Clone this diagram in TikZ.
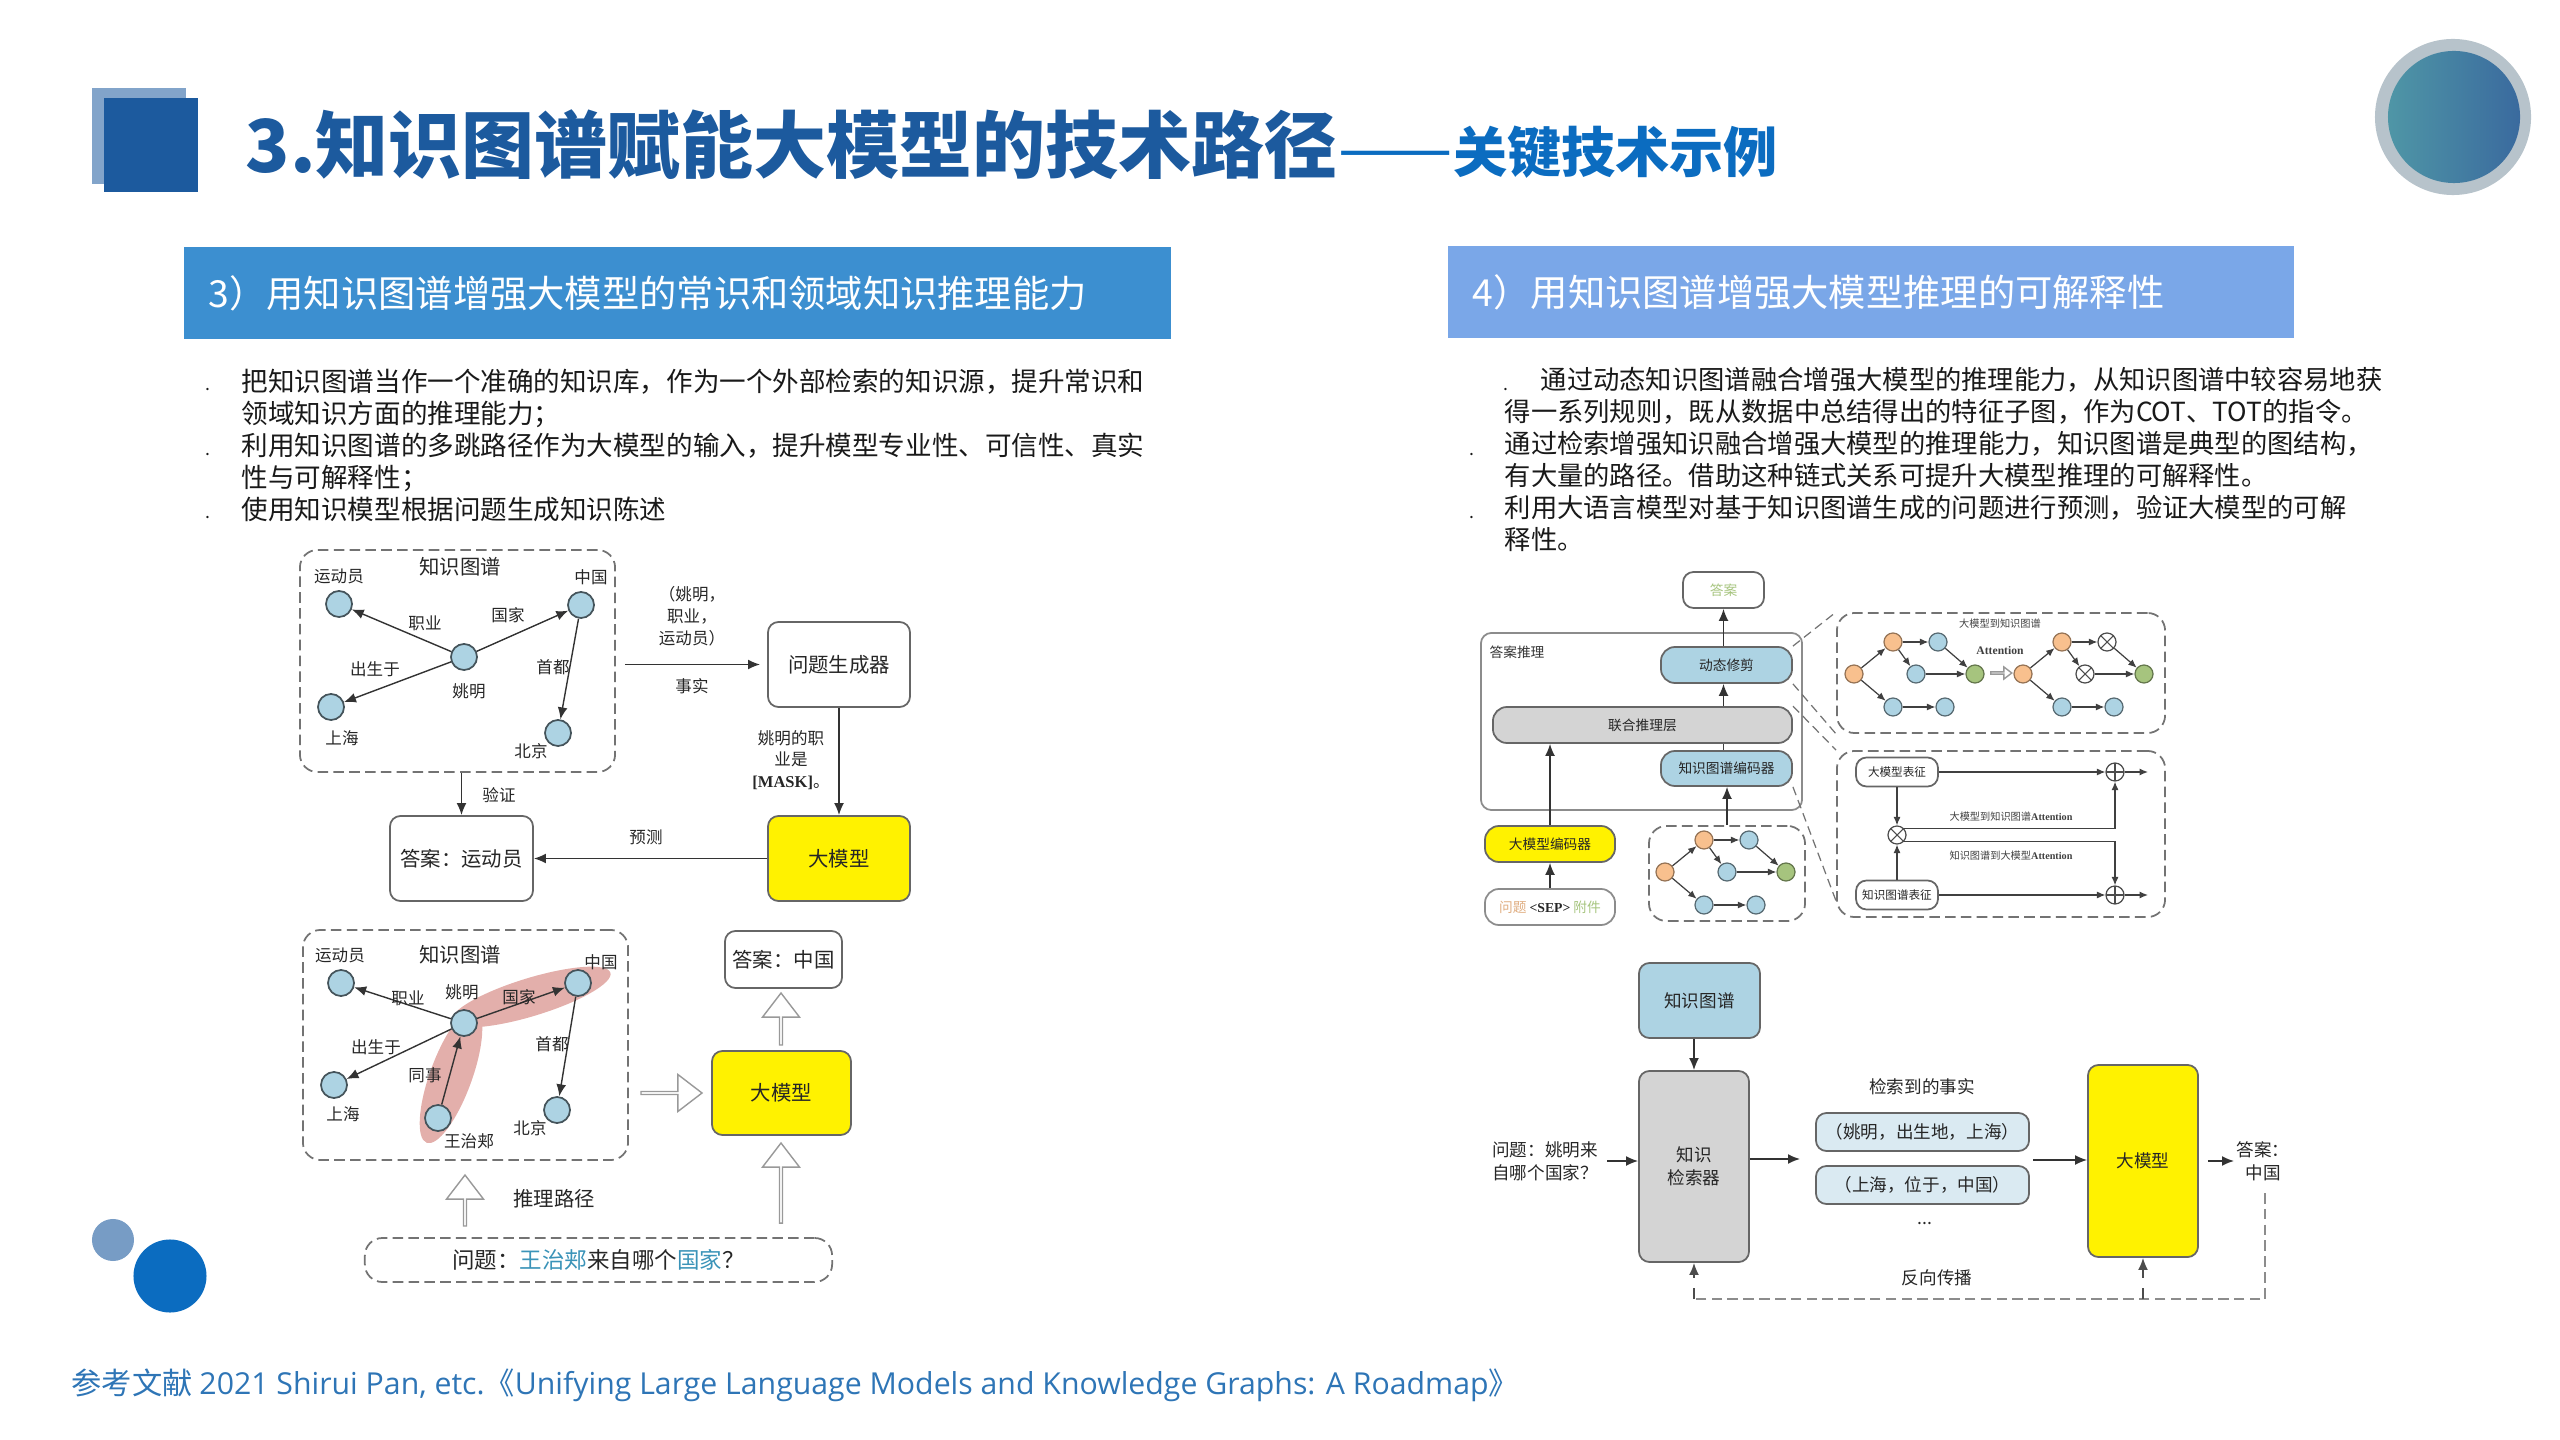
\documentclass[tikz,border=0pt]{standalone}
\usepackage{fontspec}
\setmainfont{Noto Sans CJK SC}
\newfontfamily\latinfont{Open Sans}
\newfontfamily\serifbold[BoldFont={Liberation Serif Bold}]{Liberation Serif}
\usepackage{xcolor}
\usepackage{tikz}
\usetikzlibrary{shapes.geometric,shapes.arrows,arrows.meta,positioning}

\definecolor{titleblue}{HTML}{1C5A9E}
\definecolor{subblue}{HTML}{0B6CC0}
\definecolor{bannerA}{HTML}{3C8FD0}
\definecolor{bannerB}{HTML}{7AA7E8}
\definecolor{nodeblue}{HTML}{ADD3E3}
\definecolor{factblue}{HTML}{DAEAF2}
\definecolor{nodeorange}{HTML}{F8C08E}
\definecolor{nodegreen}{HTML}{A6C47E}
\definecolor{pathpink}{HTML}{E3AFAB}
\definecolor{qblue}{HTML}{3A93B8}
\definecolor{footblue}{HTML}{2E75B6}
\definecolor{ringgray}{HTML}{B7C3CB}
\definecolor{ringleft}{HTML}{4F96A6}
\definecolor{ringright}{HTML}{3A6A9E}

\newcommand{\kggraph}[5]{
  \begin{scope}[shift={(#2,#3)}]
    \node[onode] (#1a) at (0,0) {};
    \node[onode] (#1b) at (39,-32) {};
    \node[#4] (#1c) at (84,-32) {};
    \node[#5] (#1d) at (62,0) {};
    \node[gnode] (#1e) at (121,0) {};
    \node[bnode] (#1f) at (39,33) {};
    \node[bnode] (#1g) at (91,33) {};
  \end{scope}
  \foreach \s/\t in {a/b,b/c,b/d,c/e,d/e,a/f,f/g}
    \draw[arrs] (#1\s) -- (#1\t);
}

\begin{document}
\begin{tikzpicture}[
  x=0.01cm, y=-0.01cm,
  box/.style={draw=black!60, rounded corners=3pt, line width=.5pt, inner sep=0pt, align=center, text=black!85},
  dbox/.style={draw=black!55, dash pattern=on 3pt off 1.5pt, rounded corners=5pt, line width=.5pt, inner sep=0pt},
  arr/.style={-{Latex[length=3.4pt,width=2.8pt]}, line width=.4pt, draw=black!80},
  arrs/.style={-{Latex[length=2.4pt,width=2pt]}, line width=.35pt, draw=black!75},
  link/.style={draw=black!55, dash pattern=on 2.5pt off 1.5pt, line width=.35pt},
  fb/.style={draw=black!45, dash pattern=on 3pt off 1.5pt, line width=.5pt},
  hollow/.style={single arrow, draw=black!40, fill=white, inner sep=0pt, line width=.4pt, single arrow tip angle=75},
  big/.style={inner sep=0pt, align=center, text=black!85, font=\fontsize{5.8}{7.4}\selectfont},
  small/.style={inner sep=0pt, align=center, text=black!85, font=\fontsize{4.7}{6.2}\selectfont},
  mid/.style={inner sep=0pt, align=center, text=black!85, font=\fontsize{5}{6.6}\selectfont},
  tiny3/.style={inner sep=0pt, align=center, text=black!80, font=\fontsize{3.9}{5}\selectfont},
  tiny2/.style={inner sep=0pt, align=center, text=black!75, font=\fontsize{2.9}{4}\selectfont},
  cnode/.style={circle, draw=black!60!nodeblue, fill=nodeblue, minimum size=.26cm, inner sep=0pt, line width=.5pt},
  bnode/.style={circle, draw=black!50!nodeblue, fill=nodeblue, minimum size=.18cm, inner sep=0pt, line width=.35pt},
  onode/.style={bnode, draw=black!40!nodeorange, fill=nodeorange},
  gnode/.style={bnode, draw=black!40!nodegreen, fill=nodegreen},
  xnode/.style={bnode, draw=black!70, fill=white, path picture={
    \draw[black!70, line width=.3pt] (path picture bounding box.north west) -- (path picture bounding box.south east)
      (path picture bounding box.north east) -- (path picture bounding box.south west);}},
  pnode/.style={bnode, draw=black!70, fill=white, path picture={
    \draw[black!70, line width=.3pt] (path picture bounding box.north) -- (path picture bounding box.south)
      (path picture bounding box.west) -- (path picture bounding box.east);}},
  banner/.style={minimum height=.92cm, inner xsep=.25cm, inner ysep=0pt, align=left, text=white, font=\fontsize{10.6}{12}\selectfont},
  body/.style={inner sep=0pt, align=left, text=black!90, font=\fontsize{7.55}{9.1}\selectfont},
  bullet/.style={inner sep=0pt, text=black!90, font=\fontsize{5}{6}\selectfont}
]
  \useasboundingbox (0,0) rectangle (2560,1440);

  % header
  \node[rectangle, fill=titleblue!55!white, minimum width=.94cm, minimum height=.95cm, inner sep=0pt] (sqback) at (139,136) {};
  \node[rectangle, fill=titleblue, minimum width=.94cm, minimum height=.93cm, inner sep=0pt] (sqfront) at (151,145) {};
  \node[anchor=base west, inner sep=0pt, text=titleblue, font=\fontsize{20.75}{24}\selectfont\bfseries] (title) at (245,173) {3.知识图谱赋能大模型的技术路径};
  \node[anchor=base west, inner sep=0pt, text=subblue, font=\fontsize{15.4}{18}\selectfont\bfseries] (subtitle) at (title.base east) {{\fontsize{19.4}{20}\selectfont\mdseries ——}关键技术示例};
  \node[circle, fill=ringgray, minimum size=1.56cm, inner sep=0pt] (ringout) at (2453,117) {};
  \node[circle, left color=ringleft, right color=ringright, minimum size=1.32cm, inner sep=0pt] (ringin) at (2454,117) {};

  % banners
  \node[banner, fill=bannerA, minimum width=9.87cm, text width=9.37cm] (bana) at (677.5,293) {3）用知识图谱增强大模型的常识和领域知识推理能力};
  \node[banner, fill=bannerB, minimum width=8.46cm, text width=7.96cm] (banb) at (1871,292) {4）用知识图谱增强大模型推理的可解释性};

  % left text
  \node[body, anchor=north west] (texta) at (241,368) {把知识图谱当作一个准确的知识库，作为一个外部检索的知识源，提升常识和\\
    领域知识方面的推理能力；\\
    利用知识图谱的多跳路径作为大模型的输入，提升模型专业性、可信性、真实\\
    性与可解释性；\\
    使用知识模型根据问题生成知识陈述};
  \node[bullet] (dota) at (208,390) {.};
  \node[bullet] (dotb) at (208,455) {.};
  \node[bullet] (dotc) at (208,518) {.};

  % right text
  \node[body, anchor=north west, font=\fontsize{7.48}{9.1}\selectfont] (textb) at (1504,367) {\hspace*{.36cm}通过动态知识图谱融合增强大模型的推理能力，从知识图谱中较容易地获\\
    得一系列规则，既从数据中总结得出的特征子图，作为COT、TOT的指令。\\
    通过检索增强知识融合增强大模型的推理能力，知识图谱是典型的图结构，\\
    有大量的路径。借助这种链式关系可提升大模型推理的可解释性。\\
    利用大语言模型对基于知识图谱生成的问题进行预测，验证大模型的可解\\
    释性。};
  \node[bullet] (dotd) at (1506,390) {.};
  \node[bullet] (dote) at (1472,455) {.};
  \node[bullet] (dotf) at (1472,518) {.};

  % upper left graph
  \node[dbox, minimum width=3.15cm, minimum height=2.22cm] (kga) at (457.5,661) {};
  \node[cnode] (ydA) at (339,604) {};
  \node[cnode] (zgA) at (581,605) {};
  \node[cnode] (ymA) at (464,657) {};
  \node[cnode] (shA) at (331,707) {};
  \node[cnode] (bjA) at (558,733) {};
  \draw[arr] (ymA) -- (ydA);
  \draw[arr] (ymA) -- (zgA);
  \draw[arr] (ymA) -- (shA);
  \draw[arr] (zgA) -- (bjA);
  \node[big] (kglabA) at (460,567) {知识图谱};
  \node[small] at (339,576) {运动员};
  \node[small] at (591,577) {中国};
  \node[small] at (425,623) {职业};
  \node[small] at (508,615) {国家};
  \node[small] at (375,669) {出生于};
  \node[small] at (469,691) {姚明};
  \node[small] at (553,667) {首都};
  \node[small] at (342,738) {上海};
  \node[small] at (531,751) {北京};
  \node[box, minimum width=1.42cm, minimum height=.85cm, font=\fontsize{5.8}{7}\selectfont] (gena) at (839,664.5) {问题生成器};
  \node[box, fill=yellow, minimum width=1.42cm, minimum height=.85cm, font=\fontsize{5.8}{7}\selectfont] (llma) at (839,858.5) {大模型};
  \node[box, minimum width=1.43cm, minimum height=.85cm, font=\fontsize{5.8}{7}\selectfont] (ansa) at (461.5,858.5) {答案：运动员};
  \draw[arr, shorten <=.09cm, shorten >=.07cm] (kga.east |- gena.west) -- (gena.west);
  \draw[arr] (gena) -- (llma);
  \draw[arr] (llma) -- (ansa);
  \draw[arr] (kga.south -| ansa.north) -- (ansa.north);
  \node[small] at (692,616) {（姚明，\\职业，\\运动员）};
  \node[small] at (692,686) {事实};
  \node[small] at (791,760) {姚明的职\\业是\\{\serifbold\bfseries [MASK]}。};
  \node[small] at (499,795) {验证};
  \node[small] at (646,837) {预测};

  % lower left graph
  \node[dbox, minimum width=3.25cm, minimum height=2.3cm] (kgb) at (465.5,1045) {};
  \node[ellipse, fill=pathpink, minimum width=1.66cm, minimum height=.38cm, inner sep=0pt, rotate=17] (patha) at (531,997) {};
  \node[ellipse, fill=pathpink, minimum width=1.42cm, minimum height=.42cm, inner sep=0pt, rotate=70] (pathb) at (451,1076) {};
  \node[cnode] (ydB) at (341,983) {};
  \node[cnode] (zgB) at (578,983) {};
  \node[cnode] (ymB) at (464,1023) {};
  \node[cnode] (shB) at (334,1085) {};
  \node[cnode] (wgB) at (438,1118) {};
  \node[cnode] (bjB) at (557,1110) {};
  \draw[arr] (ymB) -- (ydB);
  \draw[arr] (ymB) -- (zgB);
  \draw[arr] (ymB) -- (shB);
  \draw[arr] (zgB) -- (bjB);
  \draw[arr] (wgB) -- (ymB);
  \node[big] (kglabB) at (460,955) {知识图谱};
  \node[small] at (340,955) {运动员};
  \node[small] at (601,962) {中国};
  \node[small] at (408,998) {职业};
  \node[small] at (462,992) {姚明};
  \node[small] at (519,997) {国家};
  \node[small] at (376,1047) {出生于};
  \node[small] at (552,1044) {首都};
  \node[small] at (425,1075) {同事};
  \node[small] at (343,1114) {上海};
  \node[small] at (530,1128) {北京};
  \node[small] at (469,1141) {王治郏};
  \node[box, minimum width=1.17cm, minimum height=.57cm, font=\fontsize{5.8}{7}\selectfont] (ansb) at (783.5,959.5) {答案：中国};
  \node[box, fill=yellow, minimum width=1.39cm, minimum height=.84cm, font=\fontsize{5.8}{7}\selectfont] (llmb) at (781.5,1093) {大模型};
  \node[hollow, minimum height=.52cm, minimum width=.37cm, single arrow head extend=.08cm, rotate=90] (uparr) at (781,1020) {};
  \node[hollow, minimum height=.61cm, minimum width=.37cm, single arrow head extend=.08cm] (rtarr) at (670.5,1093) {};
  \node[hollow, minimum height=.80cm, minimum width=.37cm, single arrow head extend=.08cm, rotate=90] (lowarr) at (781,1184) {};
  \node[hollow, minimum height=.51cm, minimum width=.37cm, single arrow head extend=.08cm, rotate=90] (pathUp) at (465,1201.5) {};
  \node[big] (pathlab) at (554,1199) {推理路径};
  \node[dbox, minimum width=4.67cm, minimum height=.44cm, text=black!85, font=\fontsize{6.4}{8}\selectfont] (quesb) at (598.5,1260) {问题：{\color{qblue}王治郏}来自哪个{\color{qblue}国家}？};

  % upper right framework
  \node[box, draw=black!45, minimum width=3.21cm, minimum height=1.77cm] (infer) at (1641.5,721.5) {};
  \node[tiny3] at (1517,652) {答案推理};
  \node[box, minimum width=.81cm, minimum height=.36cm, text=nodegreen, font=\fontsize{3.9}{5}\selectfont] (ansc) at (1723.5,590) {答案};
  \node[box, fill=nodeblue, rounded corners=4pt, minimum width=1.31cm, minimum height=.36cm, font=\fontsize{3.9}{5}\selectfont] (prune) at (1726.5,665) {动态修剪};
  \node[box, fill=black!17, rounded corners=4pt, minimum width=2.99cm, minimum height=.36cm, font=\fontsize{3.9}{5}\selectfont] (joint) at (1642.5,725) {联合推理层};
  \node[box, fill=nodeblue, rounded corners=4pt, minimum width=1.31cm, minimum height=.35cm, font=\fontsize{3.9}{5}\selectfont] (kgenc) at (1726.5,768.5) {知识图谱编码器};
  \node[box, fill=yellow, rounded corners=4pt, minimum width=1.30cm, minimum height=.36cm, font=\fontsize{3.9}{5}\selectfont] (lmenc) at (1550,844) {大模型编码器};
  \node[box, draw=black!45, rounded corners=4pt, minimum width=1.30cm, minimum height=.36cm, font=\fontsize{3.9}{5}\selectfont] (qsep) at (1550,907) {{\color{nodeorange!90!black}问题} \textbf{\serifbold <SEP>} {\color{nodegreen}附件}};
  \node[dbox, minimum width=1.56cm, minimum height=.95cm] (gbox) at (1727,873.5) {};
  \node[dbox, minimum width=3.28cm, minimum height=1.20cm] (attbox) at (2001,673) {};
  \node[dbox, minimum width=3.28cm, minimum height=1.66cm] (repbox) at (2001,834) {};
  \draw[arr] (prune.north -| ansc.south) -- (ansc.south);
  \draw[arr] (joint.north -| ansc.south) -- (prune.south -| ansc.south);
  \draw[draw=black!75, line width=.4pt] (kgenc.north -| ansc.south) -- (joint.south -| ansc.south);
  \draw[arr] (gbox.north) -- (kgenc.south -| gbox.north);
  \draw[arr] (lmenc.north) -- (joint.south -| lmenc.north);
  \draw[arr] (qsep) -- (lmenc);
  \draw[link] (prune.north east) -- (attbox.north west);
  \draw[link] (prune.south east) -- (attbox.south west);
  \draw[link] (joint.north east) -- (repbox.north west);
  \draw[link] (kgenc.south east) -- ([yshift=.17cm]repbox.south west);

  % three small graphs
  \kggraph{gl}{1665}{872}{bnode}{bnode}
  \kggraph{gp}{1854}{674}{bnode}{bnode}
  \kggraph{gq}{2023}{674}{xnode}{xnode}
  \node[hollow, minimum height=.21cm, minimum width=.12cm, single arrow head extend=.03cm] (attarr) at (2000.5,673) {};
  \node[tiny2] at (2000,624) {大模型到知识图谱};
  \node[tiny2, font=\fontsize{3.3}{4}\selectfont\serifbold\bfseries] at (2000,651) {Attention};

  % attention lanes
  \node[box, minimum width=.82cm, minimum height=.29cm, font=\fontsize{3.3}{4}\selectfont] (lmrep) at (1897,772) {大模型表征};
  \node[box, minimum width=.82cm, minimum height=.29cm, font=\fontsize{3.3}{4}\selectfont] (kgrep) at (1897,895) {知识图谱表征};
  \node[xnode] (xop) at (1897,835) {};
  \node[pnode] (ptop) at (2115,772) {};
  \node[pnode] (pbot) at (2115,895) {};
  \coordinate (outa) at (2148,772);
  \coordinate (outb) at (2148,895);
  \draw[arrs] (lmrep) -- (ptop);
  \draw[arrs] (kgrep) -- (pbot);
  \draw[arrs] (ptop) -- (outa);
  \draw[arrs] (pbot) -- (outb);
  \draw[arrs] (lmrep) -- (xop);
  \draw[arrs] (kgrep) -- (xop);
  \draw[arrs] (xop.north east) -| (ptop.south);
  \draw[arrs] (xop.south east) -| (pbot.north);
  \node[tiny2] at (2011,817) {大模型到知识图谱{\serifbold\bfseries Attention}};
  \node[tiny2] at (2011,856) {知识图谱到大模型{\serifbold\bfseries Attention}};

  % retrieval flow
  \node[box, fill=nodeblue, minimum width=1.21cm, minimum height=.75cm, font=\fontsize{5}{6.6}\selectfont] (kgd) at (1699.5,1000.5) {知识图谱};
  \node[box, fill=black!17, minimum width=1.10cm, minimum height=1.91cm, font=\fontsize{5}{6.6}\selectfont] (retr) at (1694,1166.5) {知识\\检索器};
  \node[box, fill=factblue, minimum width=2.13cm, minimum height=.38cm, font=\fontsize{5}{6.6}\selectfont] (facta) at (1922.5,1132) {（姚明，出生地，上海）};
  \node[box, fill=factblue, minimum width=2.13cm, minimum height=.38cm, font=\fontsize{5}{6.6}\selectfont] (factb) at (1922.5,1185) {（上海，位于，中国）};
  \node[box, fill=yellow, minimum width=1.10cm, minimum height=1.92cm, font=\fontsize{5}{6.6}\selectfont] (llmd) at (2143,1161) {大模型};
  \node[mid] at (1922,1087) {检索到的事实};
  \node[mid] at (1925,1224) {...};
  \node[mid] at (1937,1278) {反向传播};
  \node[mid, anchor=center] (quesd) at (1545,1161) {问题：姚明来\\自哪个国家？};
  \node[mid] (ansd) at (2263,1161) {答案：\\中国};
  \coordinate (factl) at (1800,1159);
  \coordinate (factr) at (2033,1160);
  \coordinate (outd) at (2234,1161);
  \coordinate (fbtop) at (2265,1193);
  \coordinate (fbl) at (1694,1299);
  \coordinate (fbm) at (2143,1299);
  \draw[arr] (kgd.south -| retr.north) -- (retr.north);
  \draw[arr, shorten <=.09cm] (quesd.east) -- (retr.west |- quesd.east);
  \draw[arr] (retr.east |- factl) -- (factl);
  \draw[arr] (factr) -- (llmd.west |- factr);
  \draw[arr, shorten <=.09cm] (llmd.east |- outd) -- (outd);
  \draw[fb] (fbtop) |- (fbl);
  \draw[-{Latex[length=3.4pt,width=2.8pt]}, draw=black!70, line width=.4pt, dashed] (fbl) -- (retr.south);
  \draw[-{Latex[length=3.4pt,width=2.8pt]}, draw=black!70, line width=.4pt, dashed] (fbm) -- (llmd.south);

  % small dots and reference
  \node[circle, fill=titleblue!60!white, minimum size=.42cm, inner sep=0pt] (dotsmall) at (113,1240) {};
  \node[circle, fill=subblue, minimum size=.73cm, inner sep=0pt] (dotbig) at (170,1276) {};
  \node[anchor=west, inner sep=0pt, text=footblue, font=\fontsize{8.6}{10}\selectfont] (refline) at (71,1385) {参考文献 {\latinfont 2021 Shirui Pan, etc.}《{\latinfont Unifying Large Language Models and Knowledge Graphs: A Roadmap}》};
\end{tikzpicture}
\end{document}
